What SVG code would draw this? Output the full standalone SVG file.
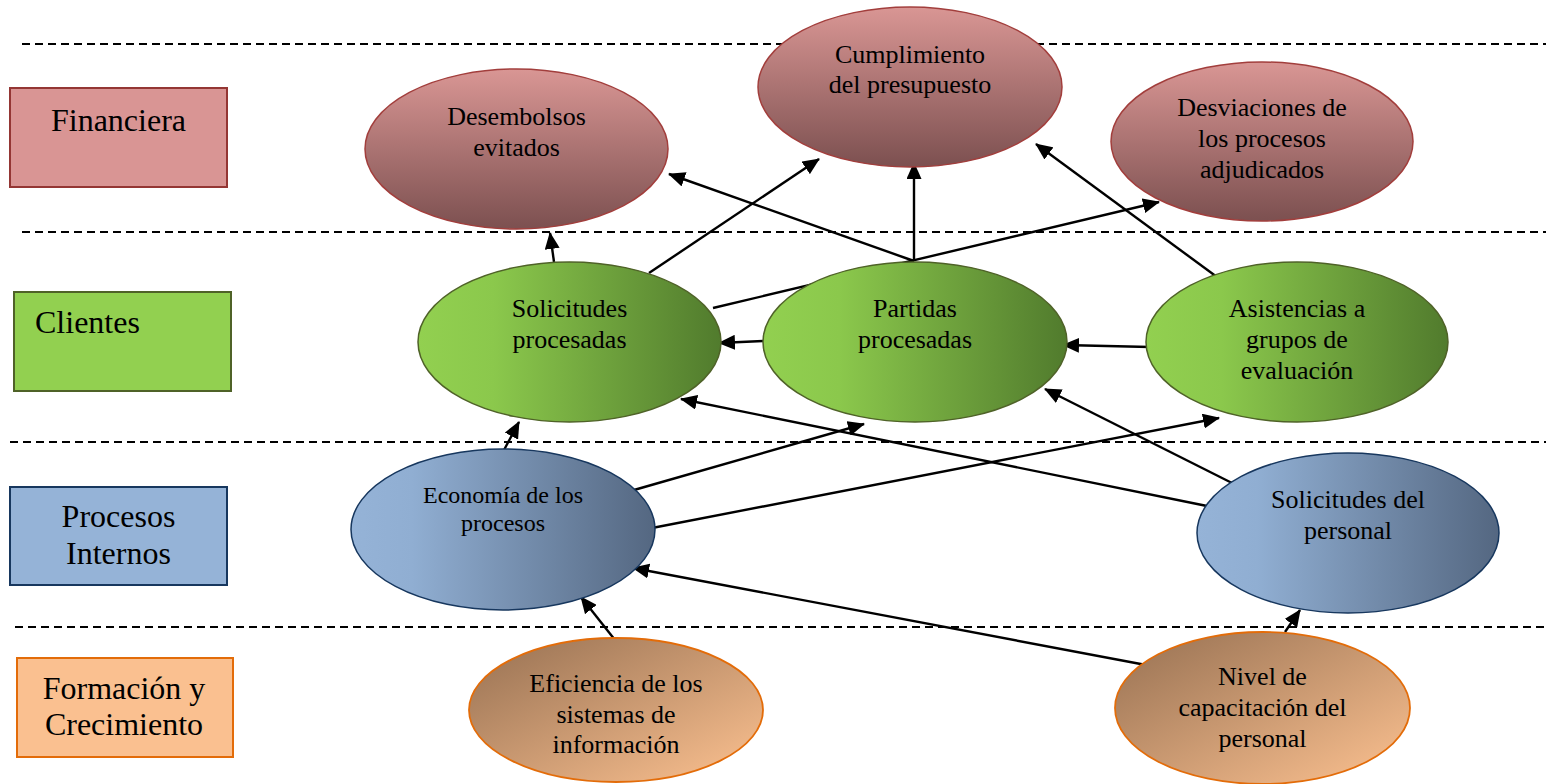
<svg xmlns="http://www.w3.org/2000/svg" width="1546" height="784" viewBox="0 0 1546 784">
<defs>
<linearGradient id="gRed" x1="0" y1="0" x2="0" y2="1">
<stop offset="0" stop-color="#D99694"/>
<stop offset="1" stop-color="#7C5050"/>
</linearGradient>
<linearGradient id="gGreen" x1="0" y1="0" x2="1" y2="0">
<stop offset="0" stop-color="#92D050"/>
<stop offset="0.25" stop-color="#8BC84C"/>
<stop offset="1" stop-color="#517B2D"/>
</linearGradient>
<linearGradient id="gBlue" x1="0" y1="0" x2="1" y2="0">
<stop offset="0" stop-color="#95B3D7"/>
<stop offset="0.2" stop-color="#90AED2"/>
<stop offset="1" stop-color="#546781"/>
</linearGradient>
<linearGradient id="gOrange" x1="0" y1="0" x2="1" y2="1">
<stop offset="0.1" stop-color="#A07858"/>
<stop offset="0.95" stop-color="#F8BE8E"/>
</linearGradient>
<marker id="arr" markerUnits="userSpaceOnUse" markerWidth="17" markerHeight="15" refX="16" refY="7.5" orient="auto">
<path d="M0,0 L17,7.5 L0,15 z" fill="#000"/>
</marker>
</defs>
<style>
.dash{stroke:#000;stroke-width:1.8;stroke-dasharray:8 5;fill:none}
.lbl{font-family:"Liberation Serif","Times New Roman","DejaVu Serif",serif;font-size:32px;fill:#000}
.t{font-family:"Liberation Serif","Times New Roman","DejaVu Serif",serif;font-size:26px;fill:#000;text-anchor:middle}
.red{fill:url(#gRed);stroke:#A23E3C;stroke-width:1.5}
.green{fill:url(#gGreen);stroke:#4F6228;stroke-width:1.5}
.blue{fill:url(#gBlue);stroke:#17375E;stroke-width:1.5}
.orange{fill:url(#gOrange);stroke:#E36C09;stroke-width:1.8}
.con line{stroke:#000;stroke-width:2.4;marker-end:url(#arr)}
</style>
<rect width="1546" height="784" fill="#fff"/>
<g id="dashed-lines">
<line class="dash" x1="22" y1="44" x2="1546" y2="44"/>
<line class="dash" x1="22" y1="232" x2="1546" y2="232"/>
<line class="dash" x1="10" y1="442" x2="1546" y2="442"/>
<line class="dash" x1="15" y1="627" x2="1546" y2="627"/>
</g>
<g id="perspectives">
<g id="p-financiera">
<rect x="10" y="88" width="217" height="99" fill="#D99594" stroke="#943634" stroke-width="2"/>
<text class="lbl" x="118.5" y="131" text-anchor="middle">Financiera</text>
</g>
<g id="p-clientes">
<rect x="14" y="292" width="217" height="99" fill="#92D050" stroke="#4F6228" stroke-width="2"/>
<text class="lbl" x="35" y="333">Clientes</text>
</g>
<g id="p-procesos">
<rect x="10" y="487" width="217" height="98" fill="#95B3D7" stroke="#17375E" stroke-width="2"/>
<text class="lbl" x="118.5" y="527" text-anchor="middle">Procesos</text>
<text class="lbl" x="118.5" y="564" text-anchor="middle">Internos</text>
</g>
<g id="p-formacion">
<rect x="17" y="658" width="216" height="99" fill="#FAC090" stroke="#E36C09" stroke-width="2"/>
<text class="lbl" x="124" y="699" text-anchor="middle">Formación y</text>
<text class="lbl" x="124" y="735" text-anchor="middle">Crecimiento</text>
</g>
</g>
<g id="connectors" class="con">
<line x1="554" y1="262" x2="550" y2="233"/>
<line x1="649" y1="273" x2="819" y2="159"/>
<line x1="914" y1="261" x2="669" y2="174"/>
<line x1="914" y1="261" x2="914" y2="163"/>
<line x1="713" y1="308" x2="1159" y2="202"/>
<line x1="1217" y1="277" x2="1036" y2="144"/>
<line x1="763" y1="341" x2="719" y2="343"/>
<line x1="1150" y1="347" x2="1063" y2="345"/>
<line x1="504" y1="450" x2="519" y2="422"/>
<line x1="634" y1="490" x2="864" y2="424"/>
<line x1="652" y1="528" x2="1219" y2="418"/>
<line x1="1207" y1="506" x2="681" y2="399"/>
<line x1="1232" y1="483" x2="1045" y2="389"/>
<line x1="615" y1="640" x2="581" y2="597"/>
<line x1="1146" y1="665" x2="633" y2="568"/>
<line x1="1285" y1="632" x2="1300" y2="610"/>
</g>
<g id="n-desembolsos">
<ellipse class="red" cx="516.5" cy="149" rx="151.5" ry="80"/>
<text class="t" x="516.5" y="125">Desembolsos</text>
<text class="t" x="516.5" y="156">evitados</text>
</g>
<g id="n-cumplimiento">
<ellipse class="red" cx="910" cy="87" rx="152" ry="80"/>
<text class="t" x="910" y="63">Cumplimiento</text>
<text class="t" x="910" y="93">del presupuesto</text>
</g>
<g id="n-desviaciones">
<ellipse class="red" cx="1262" cy="141.5" rx="151" ry="79.5"/>
<text class="t" x="1262" y="116">Desviaciones de</text>
<text class="t" x="1262" y="147">los procesos</text>
<text class="t" x="1262" y="178">adjudicados</text>
</g>
<g id="n-solicitudes-procesadas">
<ellipse class="green" cx="569.5" cy="342" rx="151.5" ry="80"/>
<text class="t" x="569.5" y="317">Solicitudes</text>
<text class="t" x="569.5" y="348">procesadas</text>
</g>
<g id="n-partidas">
<ellipse class="green" cx="915" cy="342" rx="152" ry="80"/>
<text class="t" x="915" y="317">Partidas</text>
<text class="t" x="915" y="348">procesadas</text>
</g>
<g id="n-asistencias">
<ellipse class="green" cx="1297" cy="342" rx="151" ry="80"/>
<text class="t" x="1297" y="317">Asistencias a</text>
<text class="t" x="1297" y="348">grupos de</text>
<text class="t" x="1297" y="379">evaluación</text>
</g>
<g id="n-economia">
<ellipse class="blue" cx="503" cy="529.5" rx="152" ry="80.5"/>
<text class="t" x="503" y="503" style="font-size:24px">Economía de los</text>
<text class="t" x="503" y="531" style="font-size:24px">procesos</text>
</g>
<g id="n-solicitudes-personal">
<ellipse class="blue" cx="1348" cy="533" rx="151" ry="80"/>
<text class="t" x="1348" y="508">Solicitudes del</text>
<text class="t" x="1348" y="539">personal</text>
</g>
<g id="n-eficiencia">
<ellipse class="orange" cx="616" cy="710" rx="147" ry="72"/>
<text class="t" x="616" y="692">Eficiencia de los</text>
<text class="t" x="616" y="723">sistemas de</text>
<text class="t" x="616" y="753">información</text>
</g>
<g id="n-nivel">
<ellipse class="orange" cx="1262.5" cy="708" rx="147.5" ry="76"/>
<text class="t" x="1262.5" y="685">Nivel de</text>
<text class="t" x="1262.5" y="716">capacitación del</text>
<text class="t" x="1262.5" y="747">personal</text>
</g>
</svg>
